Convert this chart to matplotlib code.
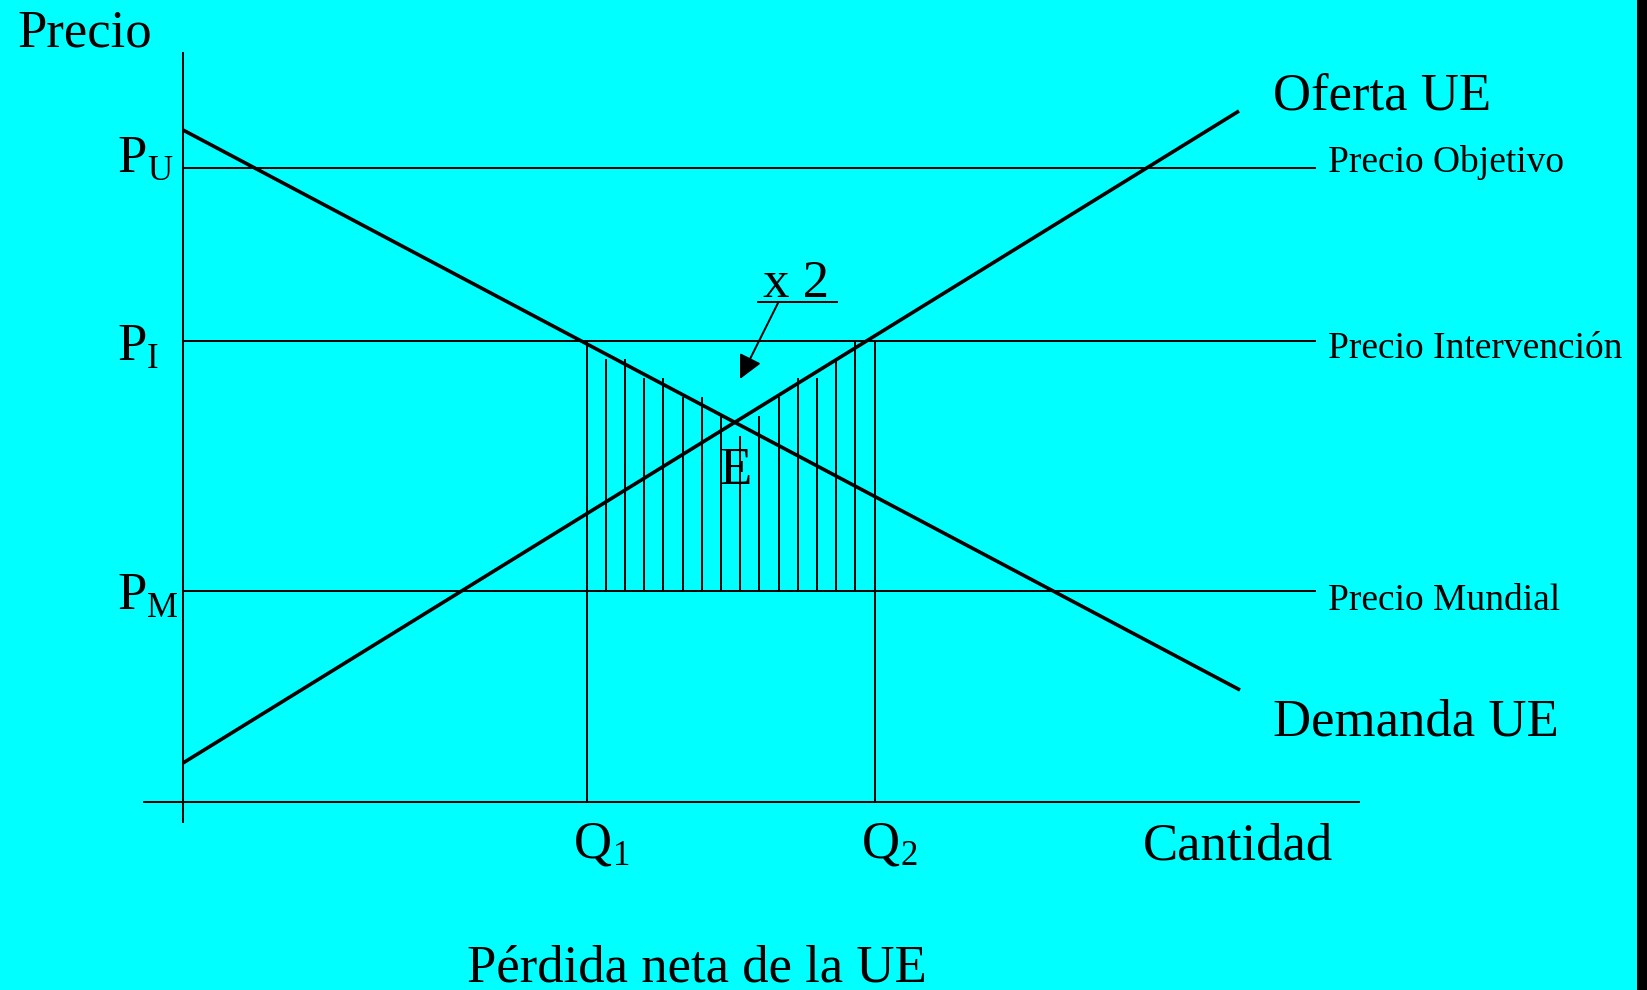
import numpy as np
import matplotlib
matplotlib.use("Agg")
import matplotlib.pyplot as plt

plt.rcParams['font.family'] = ['Liberation Serif', 'DejaVu Serif']

# --- datos (unidades arbitrarias de cantidad / precio) ---
precio_nombres = ["Precio Objetivo", "Precio Intervención", "Precio Mundial"]
precio_sub = ["U", "I", "M"]
precios = [6.34, 4.61, 2.11]          # PU, PI, PM
precio_fin = 11.32                     # donde terminan las rectas de precio

demanda_q = [0.0, 10.57]
demanda_p = [6.72, 1.12]
oferta_q = [0.0, 10.56]
oferta_p = [0.39, 6.91]

q_nombres = ["1", "2"]
cantidades = [4.035, 6.915]            # Q1, Q2

# alturas de las lineas de la zona rayada (pérdida neta)
rayado_tops = [4.42, 4.42, 4.23, 4.23, 4.04, 4.04, 3.85, 3.65,
               3.85, 4.04, 4.23, 4.23, 4.42, 4.61]

CIAN = "#00ffff"

fig = plt.figure(figsize=(16.47, 9.9), dpi=100, facecolor="black")
ax = fig.add_axes([0, 0, 1637 / 1647, 1])
ax.set_facecolor(CIAN)
ax.set_xlim(-1.83, 14.54)
ax.set_ylim(-1.88, 8.02)
ax.set_xticks([])
ax.set_yticks([])
for sp in ax.spines.values():
    sp.set_visible(False)

thin = 1.4
thick = 2.6

# ejes
ax.plot([0, 0], [-0.20, 7.49], color="black", lw=thin)
ax.plot([-0.39, 11.76], [0, 0], color="black", lw=thin)

# rectas de precio
for p in precios:
    ax.plot([0, precio_fin], [p, p], color="black", lw=thin)

# Q1 y Q2
pi = precios[1]
pm = precios[2]
for q in cantidades:
    ax.plot([q, q], [0, pi], color="black", lw=thin)

# rayado
xs = np.linspace(cantidades[0], cantidades[1], len(rayado_tops) + 2)[1:-1]
for x, top in zip(xs, rayado_tops):
    ax.plot([x, x], [pm, top], color="black", lw=thin)

# demanda y oferta
ax.plot(demanda_q, demanda_p, color="black", lw=thick, solid_capstyle='butt')
ax.plot(oferta_q, oferta_p, color="black", lw=thick, solid_capstyle='butt')

# textos
big = 38
small = 27
sub = 25
ax.text(-1.66, 7.55, "Precio", fontsize=big, va='baseline')
for p, s, dy in zip(precios, precio_sub, [-0.04, -0.19, -0.18]):
    ax.text(-0.66, p + dy, "P", fontsize=big, va='baseline')
    ax.text(-0.36, p + dy - 0.08, s, fontsize=sub, va='baseline')

for nombre, p, dy in zip(precio_nombres, precios, [-0.04, -0.17, -0.19]):
    ax.text(11.45, p + dy, nombre, fontsize=small, va='baseline')

ax.text(10.90, 6.92, "Oferta UE", fontsize=big, va='baseline')
ax.text(10.90, 0.66, "Demanda UE", fontsize=big, va='baseline')
ax.text(9.60, -0.57, "Cantidad", fontsize=big, va='baseline')

for q, n in zip(cantidades, q_nombres):
    ax.text(q - 0.13, -0.56, "Q", fontsize=big, va='baseline')
    ax.text(q + 0.26, -0.63, n, fontsize=sub, va='baseline')

ax.text(2.84, -1.80, "Pérdida neta de la UE", fontsize=big, va='baseline')
ax.text(5.36, 3.18, "E", fontsize=big, va='baseline')

# x 2 con subrayado y flecha
ax.text(5.80, 5.05, "x 2", fontsize=big, va='baseline')
ax.plot([5.75, 6.54], [5.00, 5.00], color="black", lw=thin)
ax.annotate("", xy=(5.57, 4.23), xytext=(5.95, 4.99),
            arrowprops=dict(arrowstyle='-|>', color='black', lw=thin,
                            shrinkA=0, shrinkB=0, mutation_scale=36))

fig.savefig("out.png", dpi=100, facecolor=fig.get_facecolor())
